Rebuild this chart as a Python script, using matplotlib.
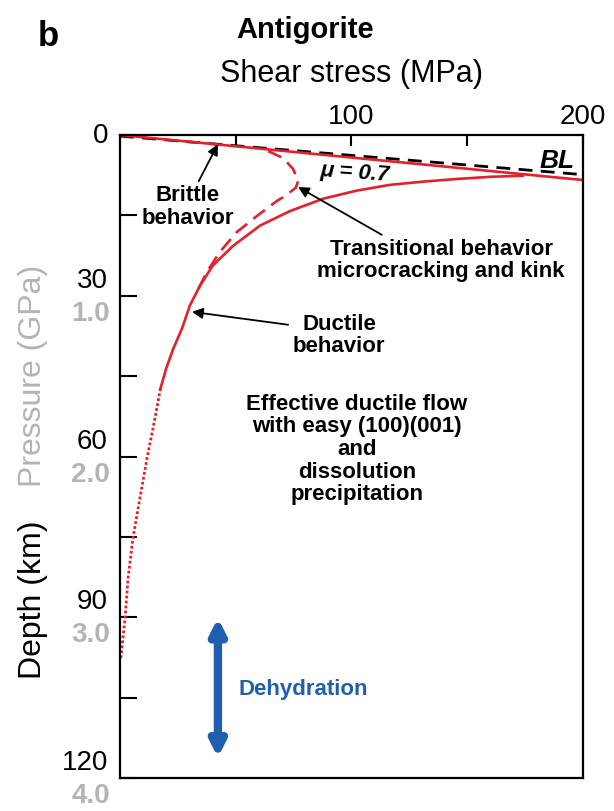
import matplotlib.pyplot as plt
from matplotlib.transforms import offset_copy

plt.rcParams["font.family"] = ["Liberation Sans", "DejaVu Sans"]

RED = "#e6202a"
GRAY = "#b4b4b4"
BLUE = "#1f5fae"

# Byerlee's law (dashed black) and brittle friction envelope (solid red)
byerlee_stress = [0, 200]
byerlee_depth = [0.2, 7.4]
brittle_stress = [0, 200]
brittle_depth = [0, 8.4]

# ductile flow law, solid part
ductile_stress = [174, 160, 145.6, 131, 116.6, 102, 87.7, 73.4, 60.5, 48.8,
                  40, 34.6, 30.2, 26.8, 23, 20, 17.5]
ductile_depth = [7.6, 7.8, 8.2, 8.7, 9.3, 10.4, 11.9, 14.2, 16.9, 20.7,
                 24.4, 28.1, 31.8, 36.1, 39.9, 43.5, 47.3]

# extrapolated part (dotted)
deep_stress = [17.5, 15.1, 11.7, 8.6, 5.6, 3.5, 2.2, 0.4]
deep_depth = [47.3, 52.9, 60.3, 67.8, 75.2, 82.7, 90.1, 97.6]

# transitional behaviour (dashed red)
trans_stress = [64, 70.5, 74.7, 77, 76, 72, 67.8, 59.2, 50.5, 43.2, 37.6, 33.3]
trans_depth = [3.0, 4.3, 6.3, 8.5, 9.8, 11.2, 12.3, 15.1, 18.1, 21.8, 25.5, 29.2]

# depth ticks with the matching pressure
depth_ticks = [30, 60, 90, 120]
pressure_labels = ["1.0", "2.0", "3.0", "4.0"]
stress_ticks = [0, 50, 100, 150, 200]
stress_labels = ["", "", "100", "", "200"]

fig = plt.figure(figsize=(6.14, 8.12), dpi=100)
ax = fig.add_axes([0.1954, 0.0406, 0.7541, 0.7919])

ax.plot(byerlee_stress, byerlee_depth, color="black", lw=2.0, dashes=(5, 3))
ax.plot(brittle_stress, brittle_depth, color=RED, lw=1.9)
ax.plot(ductile_stress, ductile_depth, color=RED, lw=1.9)
ax.plot(deep_stress, deep_depth, color=RED, lw=2.0, dashes=(1, 0.8))
ax.plot(trans_stress, trans_depth, color=RED, lw=1.9, dashes=(5.5, 3))

ax.set_xlim(0, 200)
ax.set_ylim(120, 0)

for s in ax.spines.values():
    s.set_linewidth(1.6)

ax.xaxis.tick_top()
ax.set_xticks(stress_ticks)
ax.set_xticklabels(stress_labels, fontsize=20)
ax.tick_params(axis="x", direction="in", length=8, width=1.5, pad=4)
ax.set_yticks([0, 15, 30, 45, 60, 75, 90, 105, 120])
ax.set_yticklabels([])
ax.tick_params(axis="y", direction="in", length=12, width=1.5)

# depth and pressure labels on the left side
trans = ax.get_yaxis_transform()
ax.text(0, 0, "0", transform=offset_copy(trans, fig, x=-12, y=0, units="dots"),
        ha="right", va="center", fontsize=20)
for d, p in zip(depth_ticks, pressure_labels):
    ax.text(0, d, str(d), transform=offset_copy(trans, fig, x=-12, y=16, units="dots"),
            ha="right", va="center", fontsize=20)
    ax.text(0, d, p, transform=offset_copy(trans, fig, x=-10, y=-17, units="dots"),
            ha="right", va="center", fontsize=20, fontweight="bold", color=GRAY)

fig.text(33 / 614, 1 - 600 / 812, "Depth (km)", rotation=90, fontsize=23,
         ha="center", va="center")
fig.text(33 / 614, 1 - 376 / 812, "Pressure (GPa)", rotation=90, fontsize=23,
         ha="center", va="center", color=GRAY)

fig.text(352 / 614, 1 - 74 / 812, "Shear stress (MPa)", fontsize=22,
         ha="center", va="center")
fig.text(305 / 614, 1 - 30 / 812, "Antigorite", fontsize=21, fontweight="bold",
         ha="center", va="center")
fig.text(48 / 614, 1 - 37 / 812, "b", fontsize=25, fontweight="bold",
         ha="center", va="center")

# annotations
arrow = dict(arrowstyle="-|>", color="black", lw=1.3, mutation_scale=16,
             shrinkA=0, shrinkB=0)
ax.annotate("Brittle\nbehavior", xy=(42.3, 1.7), xytext=(29.4, 13.2),
            ha="center", va="center", fontsize=16, fontweight="bold",
            linespacing=1.1, arrowprops=dict(arrow, relpos=(0.6, 1.0)))
ax.annotate("Transitional behavior\nmicrocracking and kink", xy=(76.9, 9.7),
            xytext=(138.7, 23.2), ha="center", va="center", fontsize=16,
            fontweight="bold", linespacing=1.1,
            arrowprops=dict(arrow, relpos=(0.28, 1.0)))
ax.annotate("Ductile\nbehavior", xy=(31.1, 33.0), xytext=(94.6, 37.2),
            ha="center", va="center", fontsize=16, fontweight="bold",
            linespacing=1.1, arrowprops=dict(arrow, relpos=(-0.05, 0.72)))
ax.text(102.4, 58.5, "Effective ductile flow\nwith easy (100)(001)\nand\n"
        "dissolution\nprecipitation", ha="center", va="center", fontsize=16,
        fontweight="bold", linespacing=1.1)
ax.text(101.5, 6.9, "\u03bc = 0.7", ha="center", va="center", fontsize=16,
        fontweight="bold", style="italic", rotation=-4)
ax.text(189, 4.65, "BL", ha="center", va="center", fontsize=19,
        fontweight="bold", style="italic")

# dehydration range
ax.annotate("", xy=(42.3, 90.1), xytext=(42.3, 116.2),
            arrowprops=dict(arrowstyle="<|-|>", color=BLUE, lw=6,
                            mutation_scale=22, shrinkA=0, shrinkB=0))
ax.text(51, 103.2, "Dehydration", ha="left", va="center", fontsize=16,
        fontweight="bold", color=BLUE)

fig.savefig("out.png", dpi=100)
